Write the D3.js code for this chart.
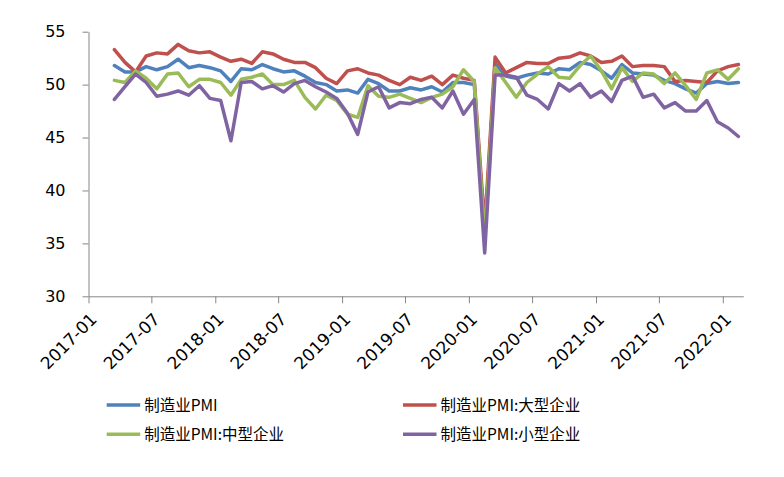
<!DOCTYPE html>
<html>
<head>
<meta charset="utf-8">
<script src="https://cdn.jsdelivr.net/npm/d3@7"></script>
<style>
  html, body { margin: 0; padding: 0; background: #fff; }
  svg { display: block; }
</style>
</head>
<body>
<svg id="chart" width="784" height="477"></svg>
<script>
// ---- data ----
const firstMonth = "2017-03";
const lastMonth = "2022-02";
const xTickLabels = ["2017-01","2017-07","2018-01","2018-07","2019-01","2019-07",
                     "2020-01","2020-07","2021-01","2021-07","2022-01"];
const yTicks = [30, 35, 40, 45, 50, 55];
const seriesNames = ["制造业PMI", "制造业PMI:大型企业", "制造业PMI:中型企业", "制造业PMI:小型企业"];

const pmiAll = [51.8,51.2,51.2,51.7,51.4,51.7,52.4,51.6,51.8,51.6,
  51.3,50.3,51.5,51.4,51.9,51.5,51.2,51.3,50.8,50.2,50.0,49.4,
  49.5,49.2,50.5,50.1,49.4,49.4,49.7,49.5,49.8,49.3,50.2,50.2,
  50.0,35.7,52.0,50.8,50.6,50.9,51.1,51.0,51.5,51.4,52.1,51.9,
  51.3,50.6,51.9,51.1,51.0,50.9,50.4,50.1,49.6,49.2,50.1,50.3,
  50.1,50.2];
const pmiLarge = [53.3,52.1,51.2,52.7,53.0,52.9,53.8,53.2,53.0,53.1,
  52.6,52.2,52.4,52.0,53.1,52.9,52.4,52.1,52.1,51.6,50.6,50.1,
  51.3,51.5,51.1,50.9,50.4,50.0,50.7,50.4,50.8,50.0,50.9,50.6,
  50.4,36.6,52.6,51.1,51.6,52.1,52.0,52.0,52.5,52.6,53.0,52.7,
  52.1,52.2,52.7,51.7,51.8,51.8,51.7,50.3,50.4,50.3,50.2,51.3,
  51.7,51.9];
const pmiMedium = [50.4,50.2,51.3,50.6,49.6,51.0,51.1,49.8,50.5,50.5,
  50.2,49.0,50.5,50.7,51.0,50.0,50.0,50.4,48.8,47.7,49.0,48.5,
  47.2,46.9,49.9,48.9,48.8,49.1,48.7,48.3,48.8,49.1,49.8,51.4,
  50.3,35.5,51.6,50.2,48.8,50.2,51.0,51.7,50.7,50.6,51.8,52.7,
  51.3,49.6,51.6,50.3,51.1,51.0,50.1,51.1,49.9,48.6,51.1,51.4,
  50.5,51.5];
const pmiSmall = [48.6,49.8,51.0,50.2,48.9,49.1,49.4,49.0,49.9,48.7,
  48.5,44.7,50.2,50.3,49.6,49.9,49.3,50.1,50.4,49.8,49.3,48.7,
  47.3,45.3,49.3,49.8,47.8,48.3,48.2,48.6,48.8,47.8,49.4,47.2,
  48.6,34.1,50.9,50.9,50.7,49.0,48.6,47.7,50.1,49.4,50.1,48.8,
  49.4,48.4,50.4,50.8,48.8,49.1,47.8,48.3,47.5,47.5,48.5,46.5,
  45.9,45.1];
const seriesColors = ["#4F81BD", "#C0504D", "#9BBB59", "#8064A2"];

// ---- build ----
const parseM = d3.timeParse("%Y-%m");
const months = d3.timeMonth.range(parseM(firstMonth), d3.timeMonth.offset(parseM(lastMonth), 1));
const mid = d => new Date((d.getTime() + d3.timeMonth.offset(d, 1).getTime()) / 2);
const seriesValues = [pmiAll, pmiLarge, pmiMedium, pmiSmall];

const svg = d3.select("#chart");
const x = d3.scaleTime()
  .domain([parseM("2017-01"), parseM("2022-03")])
  .range([88.5, 743.3]);
const y = d3.scaleLinear().domain([30, 55]).range([296.3, 31.7]);

const axisColor = "#868686";
const fontNum = "'DejaVu Sans', Verdana, sans-serif";
const fontCJK = "'Noto Sans CJK SC', 'Noto Sans', sans-serif";

// y axis
const gy = svg.append("g").attr("transform", "translate(88.5,0)")
  .call(d3.axisLeft(y).tickValues(yTicks).tickSize(6).tickSizeOuter(0).tickPadding(17));
gy.select(".domain").attr("stroke", axisColor);
gy.selectAll(".tick line").attr("stroke", axisColor);
gy.selectAll(".tick text").attr("font-family", fontNum).attr("font-size", 16).attr("fill", "#000");

// x axis
const gx = svg.append("g").attr("transform", "translate(0,296.3)")
  .call(d3.axisBottom(x).tickValues(xTickLabels.map(parseM))
    .tickFormat(d3.timeFormat("%Y-%m")).tickSize(7).tickSizeOuter(0));
gx.select(".domain").attr("stroke", axisColor);
gx.selectAll(".tick line").attr("stroke", axisColor);
gx.selectAll(".tick text")
  .attr("font-family", fontNum).attr("font-size", 17).attr("fill", "#000")
  .attr("text-anchor", "end").attr("x", 0).attr("y", 0).attr("dy", 0)
  .attr("transform", "translate(9,24) rotate(-45)");

// lines
const line = d3.line().x((v, i) => x(mid(months[i]))).y(v => y(v));
seriesValues.forEach((vals, k) => {
  svg.append("path").datum(vals)
    .attr("d", line)
    .attr("fill", "none")
    .attr("stroke", seriesColors[k])
    .attr("stroke-width", 3.5)
    .attr("stroke-linejoin", "round")
    .attr("stroke-linecap", "round");
});

// legend
const legendPos = [[106.7, 405], [403, 405], [106.7, 434.3], [403, 434.3]];
seriesNames.forEach((name, k) => {
  const [lx, ly] = legendPos[k];
  const g = svg.append("g").attr("transform", `translate(${lx},${ly})`);
  g.append("line").attr("x1", 0).attr("x2", 33.5).attr("y1", 0).attr("y2", 0)
    .attr("stroke", seriesColors[k]).attr("stroke-width", 3.5);
  g.append("text").attr("x", 37.5).attr("y", 0).attr("dy", "0.36em")
    .attr("font-family", fontCJK).attr("font-size", 15.5).attr("fill", "#000")
    .text(name);
});
</script>
</body>
</html>
